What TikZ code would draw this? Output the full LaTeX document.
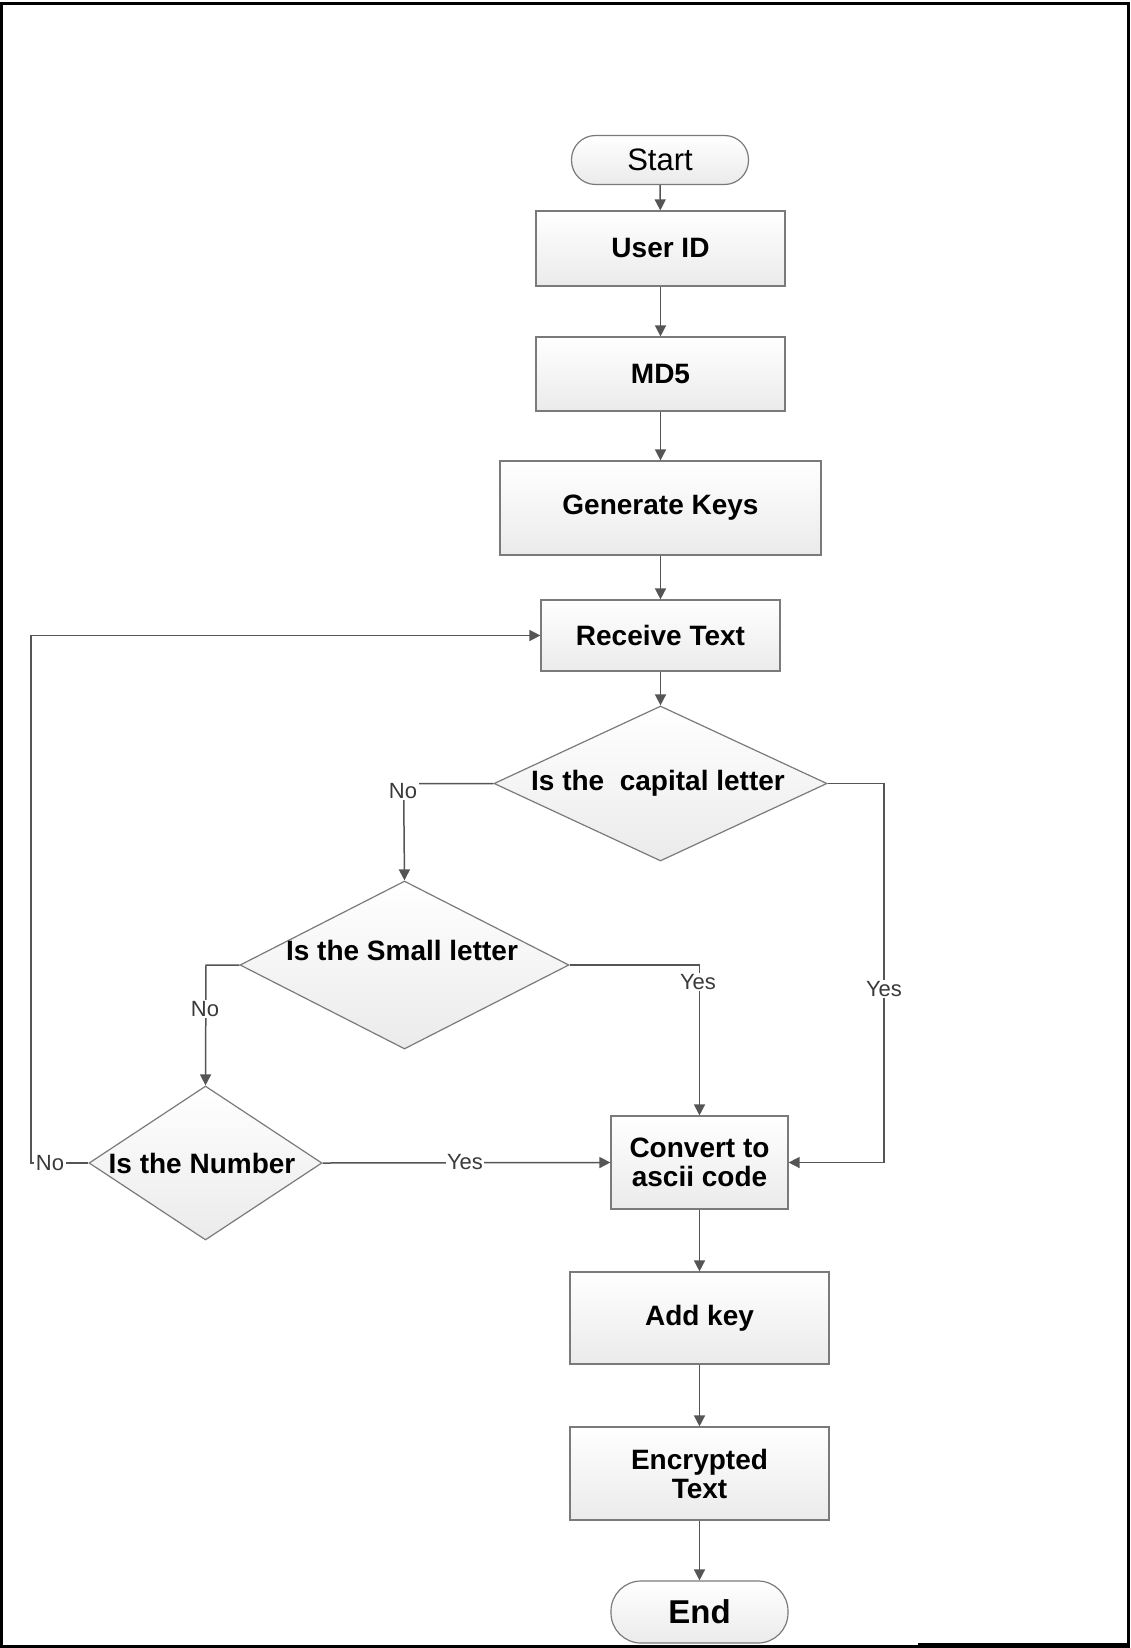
\documentclass[tikz,border=0pt]{standalone}
\usepackage{fontspec}
\setmainfont{Liberation Sans}
\usetikzlibrary{shapes.geometric,arrows.meta}
\definecolor{edgegray}{HTML}{7A7A7A}
\definecolor{arrgray}{HTML}{555555}
\definecolor{lblgray}{HTML}{3A3A3A}
\begin{document}
\begin{tikzpicture}[x=1pt,y=-1pt,
  boxbase/.style={draw=edgegray, line width=1.2pt, top color=white, bottom color=black!8, inner sep=0pt, align=center},
  procbox/.style={boxbase, rectangle, font=\fontsize{28}{29}\selectfont\bfseries},
  termbox/.style={boxbase, rectangle, rounded corners=24pt},
  decbox/.style={boxbase, diamond},
  dectext/.style={font=\fontsize{28}{30}\selectfont\bfseries, inner sep=0pt},
  conn/.style={draw=arrgray, line width=1.5pt, -{Triangle[width=11pt,length=11pt]}},
  lbl/.style={font=\fontsize{22}{24}\selectfont, text=lblgray, fill=white, inner sep=1.5pt}
]
\useasboundingbox (0,0) rectangle (1131,1648);
\draw[line width=3pt, black] (1.5,4) rectangle (1128.5,1646);
\draw[line width=3pt, black] (918,1644) -- (1130,1644);

% nodes
\node[termbox, minimum width=177pt, minimum height=49pt, font=\fontsize{31}{32}\selectfont] (start) at (660,160) {Start};
\node[procbox, minimum width=249pt, minimum height=75pt] (uid) at (660.5,248.5) {User ID};
\node[procbox, minimum width=249pt, minimum height=74pt] (md5) at (660.5,374) {MD5};
\node[procbox, minimum width=321pt, minimum height=94pt] (gen) at (660.5,508) {Generate Keys};
\node[procbox, minimum width=239pt, minimum height=71pt] (recv) at (660.5,635.5) {Receive Text};

\node[decbox, minimum width=333pt, minimum height=155pt] (cap) at (660.5,783.5) {};
\node[dectext] (captxt) at (658,783.5) {Is the\ \ capital letter};
\node[decbox, minimum width=329pt, minimum height=168pt] (sml) at (404.5,965) {};
\node[dectext] (smltxt) at (402,950) {Is the Small letter};
\node[decbox, minimum width=233pt, minimum height=154pt] (num) at (205.5,1163) {};
\node[dectext] (numtxt) at (202,1163) {Is the Number};

\node[procbox, minimum width=177pt, minimum height=93pt] (conv) at (699.5,1162.5) {Convert to\\ascii code};
\node[procbox, minimum width=259pt, minimum height=92pt] (add) at (699.5,1318) {Add key};
\node[procbox, minimum width=259pt, minimum height=93pt] (enc) at (699.5,1473.5) {Encrypted\\Text};
\node[termbox, minimum width=177pt, minimum height=62pt, rounded corners=30pt, font=\fontsize{33}{34}\selectfont\bfseries] (endn) at (699.5,1612) {End};

% corner coordinates
\coordinate (c1) at (403.6,783.5);
\coordinate (c2) at (884,783.5);
\coordinate (c3) at (884,1162.5);
\coordinate (c4) at (206,965);
\coordinate (c5) at (699.5,965);
\coordinate (c6) at (31,1163);
\coordinate (c7) at (31,635.5);

% connectors
\draw[conn] (start) -- (uid);
\draw[conn] (uid) -- (md5);
\draw[conn] (md5) -- (gen);
\draw[conn] (gen) -- (recv);
\draw[conn] (recv) -- (cap.north);
\draw[conn] (cap.west) -- (c1) -- (sml.north);
\draw[conn] (cap.east) -- (c2) -- (c3) -- (conv.east);
\draw[conn] (sml.west) -- (c4) -- (num.north);
\draw[conn] (sml.east) -- (c5) -- (conv.north);
\draw[conn] (num.east) -- (conv.west);
\draw[conn] (num.west) -- (c6) -- (c7) -- (recv.west);
\draw[conn] (conv) -- (add);
\draw[conn] (add) -- (enc);
\draw[conn] (enc) -- (endn);

% labels
\node[lbl] (l1) at (403,791) {No};
\node[lbl] (l2) at (884,989) {Yes};
\node[lbl] (l3) at (205,1009) {No};
\node[lbl] (l4) at (698,982) {Yes};
\node[lbl] (l5) at (465,1162) {Yes};
\node[lbl] (l6) at (50,1163) {No};
\end{tikzpicture}
\end{document}
